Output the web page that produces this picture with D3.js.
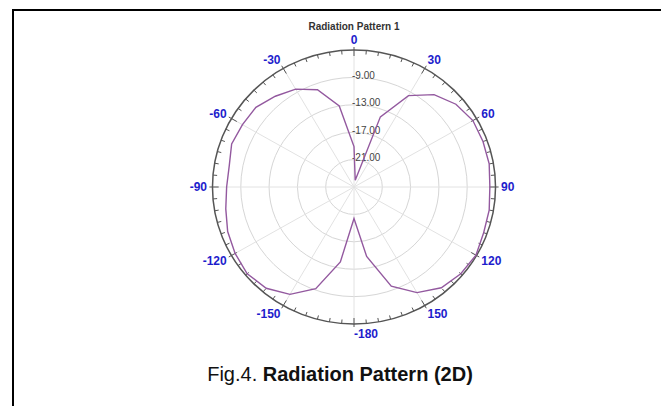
<html lang="en">
<head>
<meta charset="utf-8">
<title>Radiation Pattern</title>
<style>
  body { margin: 0; background: #fff; }
  text { font-family: "Liberation Sans", Arial, sans-serif; }
  .grid { fill: none; stroke: #d6d6d6; stroke-width: 1; }
  .spoke { stroke: #e2e2e2; stroke-width: 1; }
  .rim { fill: none; stroke: #555; stroke-width: 1.5; }
  .tick { stroke: #555; stroke-width: 1; }
  .pattern { fill: none; stroke: #93599f; stroke-width: 1.4; }
  .angle-label { fill: #1d1dcc; font-size: 12px; font-weight: bold; }
  .r-label { fill: #444; font-size: 10px; }
</style>
<script src="https://d3js.org/d3.v7.min.js"></script>
</head>
<body>
<svg id="chart" width="661" height="406"></svg>
<script>
// angles in degrees (0 = top, clockwise), gain in dB
var angles = [-180, -170, -160, -150, -140, -130, -120, -110, -100, -90, -80, -70,
              -60, -50, -40, -30, -20, -10, 0, 10, 20, 30, 40, 50,
              60, 70, 80, 90, 100, 110, 120, 130, 140, 150, 160, 170];
var gain = [-20.4, -13.9, -9.2, -6.9, -5.7, -5.3, -5.6, -6.0, -6.6, -7.0, -7.1, -6.6,
            -6.8, -6.9, -7.7, -8.5, -9.9, -13.0, -19.1, -24.0, -14.1, -9.6, -7.4, -6.2,
            -5.6, -5.6, -5.6, -5.8, -5.6, -5.5, -5.1, -5.3, -5.8, -7.2, -9.6, -14.7];
var radialTicks = [-21, -17, -13, -9];
var angleTicks = [0, 30, 60, 90, 120, 150, 180, -150, -120, -90, -60, -30];
var angleTickText = ["0", "30", "60", "90", "120", "150", "-180", "-150", "-120", "-90", "-60", "-30"];

var cx = 354, cy = 187, outerR = 137, kx = 1.033;
var svg = d3.select("#chart");

// frame lines
svg.append("line").attr("x1", 13).attr("y1", 10).attr("x2", 661).attr("y2", 10)
   .attr("stroke", "#000").attr("stroke-width", 2);
svg.append("line").attr("x1", 13).attr("y1", 9).attr("x2", 13).attr("y2", 406)
   .attr("stroke", "#000").attr("stroke-width", 2);

var r = d3.scaleLinear().domain([-25, -5]).range([0, outerR]);

function px(a, rad) { return cx + rad * Math.sin(a * Math.PI / 180) * kx; }
function py(a, rad) { return cy - rad * Math.cos(a * Math.PI / 180); }

var g = svg.append("g");

// grid circles
g.selectAll(".grid").data(radialTicks).enter().append("ellipse")
  .attr("class", "grid")
  .attr("cx", cx).attr("cy", cy)
  .attr("rx", function(d) { return r(d) * kx; })
  .attr("ry", function(d) { return r(d); });

// spokes every 30 degrees
g.selectAll(".spoke").data(d3.range(0, 360, 30)).enter().append("line")
  .attr("class", "spoke")
  .attr("x1", cx).attr("y1", cy)
  .attr("x2", function(d) { return px(d, outerR); })
  .attr("y2", function(d) { return py(d, outerR); });

// outer rim
g.append("ellipse").attr("class", "rim")
  .attr("cx", cx).attr("cy", cy).attr("rx", outerR * kx).attr("ry", outerR);

// ticks on rim
g.selectAll(".tick").data(d3.range(0, 360, 5)).enter().append("line")
  .attr("class", "tick")
  .attr("x1", function(d) { return px(d, d % 30 == 0 ? outerR + 3 : outerR); })
  .attr("y1", function(d) { return py(d, d % 30 == 0 ? outerR + 3 : outerR); })
  .attr("x2", function(d) { return px(d, outerR - (d % 30 == 0 ? 6 : 4)); })
  .attr("y2", function(d) { return py(d, outerR - (d % 30 == 0 ? 6 : 4)); });

// radial labels (plain hyphen as in the source)
g.selectAll(".r-label").data(radialTicks).enter().append("text")
  .attr("class", "r-label")
  .attr("x", cx - 2)
  .attr("y", function(d) { return cy - r(d) + 1.5; })
  .text(function(d) { return d3.format(".2f")(d).replace("\u2212", "-"); });

// pattern line
var line = d3.line()
  .x(function(d, i) { return px(angles[i], r(gain[i])); })
  .y(function(d, i) { return py(angles[i], r(gain[i])); })
  .curve(d3.curveLinearClosed);
g.append("path").attr("class", "pattern").attr("d", line(gain));

// angle labels
g.selectAll(".angle-label").data(angleTicks).enter().append("text")
  .attr("class", "angle-label")
  .attr("x", function(d) { return cx + 147 * Math.sin(d * Math.PI / 180); })
  .attr("y", function(d) { return cy - 147 * Math.cos(d * Math.PI / 180) + 1; })
  .attr("dominant-baseline", "middle")
  .attr("text-anchor", function(d) {
    if (d == 0) return "middle";
    if (d == 180) return "start";
    return d > 0 ? "start" : "end";
  })
  .text(function(d, i) { return angleTickText[i]; });

// title
svg.append("text")
  .attr("x", cx).attr("y", 30)
  .attr("text-anchor", "middle")
  .style("font-size", "10px").style("font-weight", "bold").style("fill", "#333")
  .text("Radiation Pattern 1");

// caption
var cap = svg.append("text")
  .attr("x", 340).attr("y", 381)
  .attr("text-anchor", "middle")
  .style("font-size", "20px").style("fill", "#111");
cap.append("tspan").text("Fig.4. ");
cap.append("tspan").style("font-weight", "bold").text("Radiation Pattern (2D)");
</script>
</body>
</html>
